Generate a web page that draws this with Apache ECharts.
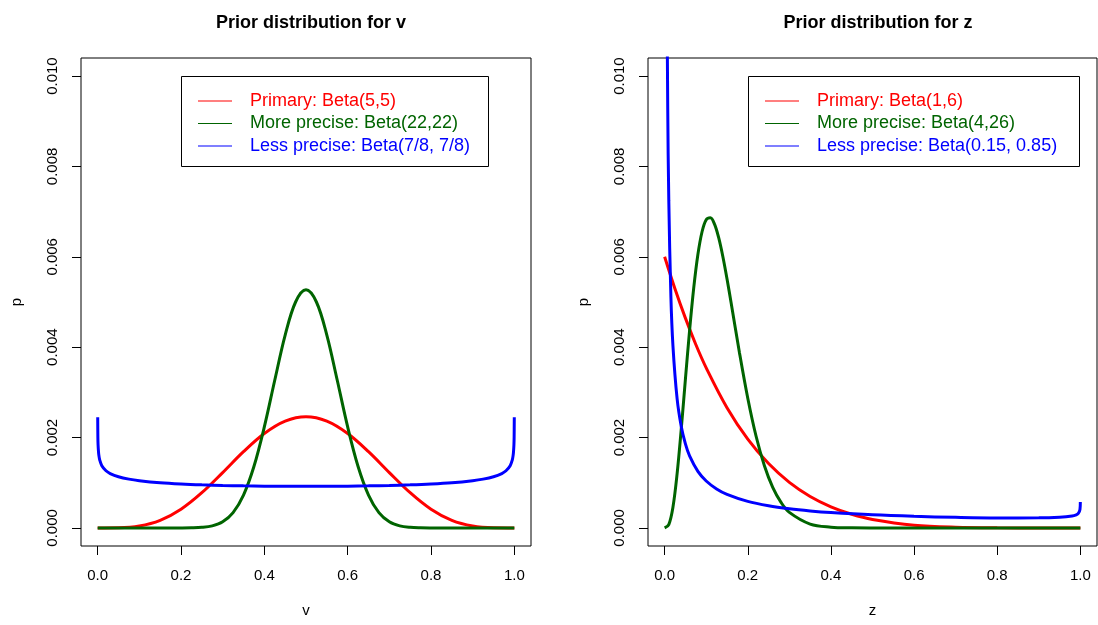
<!DOCTYPE html>
<html>
<head>
<meta charset="utf-8">
<script src="https://cdn.jsdelivr.net/npm/echarts@6/dist/echarts.min.js"></script>
<style>
html,body{margin:0;padding:0;background:#fff;}
#chart{width:1098px;height:625px;}
</style>
</head>
<body>
<div id="chart"></div>
<script>
// ---- data (p values) ----
const xTicks = [0, 0.2, 0.4, 0.6, 0.8, 1.0];
const yTicks = [0, 0.002, 0.004, 0.006, 0.008, 0.010];

// Left panel: prior for v
const vPrimaryX = [0,0.05,0.1,0.15,0.2,0.25,0.3,0.35,0.4,0.45,0.5,0.55,0.6,0.65,0.7,0.75,0.8,0.85,0.9,0.95,1];
const vPrimaryP = [0,0.0000032,0.0000413,0.000166,0.000413,0.000779,0.001225,0.001688,0.00209,0.002364,0.002461,0.002364,0.00209,0.001688,0.001225,0.000779,0.000413,0.000166,0.0000413,0.0000032,0];

const vPreciseX = [0,0.1,0.15,0.2,0.225,0.25,0.275,0.3,0.325,0.35,0.375,0.4,0.425,0.45,0.475,0.5,0.525,0.55,0.575,0.6,0.625,0.65,0.675,0.7,0.725,0.75,0.775,0.8,0.85,0.9,1];
const vPreciseP = [0,0,0,0.00000045,0.0000027,0.0000125,0.0000455,0.000135,0.000339,0.000727,0.001359,0.002236,0.003268,0.004267,0.005,0.00527,0.005,0.004267,0.003268,0.002236,0.001359,0.000727,0.000339,0.000135,0.0000455,0.0000125,0.0000027,0.00000045,0,0,0];

const vLessX = [0.0001,0.0005,0.001,0.002,0.003,0.005,0.01,0.02,0.03,0.05,0.075,0.1,0.15,0.2,0.25,0.3,0.35,0.4,0.45,0.5,0.55,0.6,0.65,0.7,0.75,0.8,0.85,0.9,0.925,0.95,0.97,0.98,0.99,0.995,0.997,0.998,0.999,0.9995,0.9999];
const vLessP = [0.002448,0.002002,0.001835,0.001684,0.0016,0.001502,0.001378,0.001265,0.001204,0.001133,0.00108,0.001046,0.001001,0.000973,0.000954,0.000941,0.000931,0.000925,0.000922,0.00092,0.000922,0.000925,0.000931,0.000941,0.000954,0.000973,0.001001,0.001046,0.00108,0.001133,0.001204,0.001265,0.001378,0.001502,0.0016,0.001684,0.001835,0.002002,0.002448];

// Right panel: prior for z
const zPrimaryX = [0,0.025,0.05,0.075,0.1,0.15,0.2,0.25,0.3,0.35,0.4,0.45,0.5,0.6,0.7,0.8,0.9,1];
const zPrimaryP = [0.006,0.005287,0.004643,0.00406,0.003543,0.002662,0.001966,0.001424,0.001008,0.000696,0.000467,0.000302,0.000188,0.0000614,0.0000146,0.0000019,0.0000001,0];

const zPreciseX = [0,0.01,0.02,0.03,0.04,0.05,0.06,0.07,0.08,0.09,0.1,0.11,0.12,0.13,0.14,0.15,0.16,0.18,0.2,0.22,0.24,0.26,0.28,0.3,0.35,0.4,0.45,0.5,0.6,0.8,1];
const zPreciseP = [0,0.0000739,0.000459,0.001198,0.002191,0.003294,0.004369,0.005311,0.00605,0.006555,0.00682,0.006866,0.006722,0.006422,0.006007,0.005514,0.004978,0.003879,0.002871,0.002029,0.001376,0.000898,0.000566,0.000344,0.0000857,0.0000173,0.0000028,0.00000035,0,0,0];

const zLessX = [0.001,0.003,0.005,0.0075,0.01,0.015,0.02,0.03,0.04,0.05,0.06,0.08,0.1,0.125,0.15,0.2,0.25,0.3,0.35,0.4,0.5,0.6,0.7,0.8,0.9,0.95,0.98,0.99,0.995,0.999,0.9999];
const zLessP = [0.05127,0.02015,0.01306,0.00926,0.007254,0.005142,0.004031,0.00286,0.002243,0.001859,0.001594,0.001252,0.001039,0.000863,0.000743,0.000587,0.00049,0.000424,0.000376,0.00034,0.000289,0.000256,0.000234,0.000222,0.000223,0.000237,0.000264,0.000291,0.000321,0.000408,0.000575];

const titles = ['Prior distribution for v', 'Prior distribution for z'];
const xNames = ['v', 'z'];
const leftNames = ['Primary: Beta(5,5)', 'More precise: Beta(22,22)', 'Less precise: Beta(7/8, 7/8)'];
const rightNames = ['Primary: Beta(1,6)', 'More precise: Beta(4,26)', 'Less precise: Beta(0.15, 0.85)'];
const colors = ['#FF0000', '#006400', '#0000FF'];

// ---- chart ----
const FONT = 'Liberation Sans, Arial, Helvetica, sans-serif';
const zip = (xs, ys) => xs.map((x, i) => [x, ys[i]]);

const gridDefs = [
  {left: 81, top: 58, width: 450, height: 488},
  {left: 648, top: 58, width: 449, height: 488}
];
const centers = [306, 873];

function xAxisFor(i) {
  return {
    gridIndex: i, type: 'value', min: -0.04, max: 1.04,
    axisLine: {show: false, onZero: false},
    splitLine: {show: false},
    axisTick: {show: true, length: 9, customValues: xTicks, lineStyle: {color: '#000', width: 1}},
    axisLabel: {customValues: xTicks, formatter: v => v.toFixed(1), margin: 22, fontSize: 15, color: '#000', fontFamily: FONT},
    name: xNames[i], nameLocation: 'middle', nameGap: 57,
    nameTextStyle: {fontSize: 15, color: '#000', fontFamily: FONT}
  };
}
function yAxisFor(i) {
  return {
    gridIndex: i, type: 'value', min: -0.0004, max: 0.0104,
    axisLine: {show: false, onZero: false},
    splitLine: {show: false},
    axisTick: {show: true, length: 9, customValues: yTicks, lineStyle: {color: '#000', width: 1}},
    axisLabel: {customValues: yTicks, formatter: v => v.toFixed(3), rotate: 90, margin: 21, fontSize: 15, color: '#000', fontFamily: FONT},
    name: 'p', nameLocation: 'middle', nameGap: 57, nameRotate: 90,
    nameTextStyle: {fontSize: 15, color: '#000', fontFamily: FONT}
  };
}
function lineSeries(name, data, color, gi) {
  return {
    name: name, type: 'line', xAxisIndex: gi, yAxisIndex: gi, data: data,
    showSymbol: false, symbol: 'none', smooth: 0.35, clip: true,
    color: color, itemStyle: {color: color},
    lineStyle: {color: color, width: 3}, animation: false
  };
}
function legendFor(names, left) {
  return {
    orient: 'vertical', left: left, top: 89.75, padding: 0, itemGap: 0,
    itemWidth: 34, itemHeight: 1, icon: 'rect', selectedMode: false,
    itemStyle: {borderWidth: 0},
    textStyle: {fontSize: 18, lineHeight: 22.5, fontFamily: FONT, padding: [0, 0, 0, 13]},
    data: names.map((n, k) => ({
      name: n,
      textStyle: {color: colors[k]},
      itemStyle: {color: colors[k], borderColor: colors[k], borderWidth: 0},
      lineStyle: {color: colors[k], width: 1}
    }))
  };
}

const option = {
  backgroundColor: '#fff',
  animation: false,
  textStyle: {fontFamily: FONT},
  title: titles.map((t, i) => ({
    text: t, left: centers[i], textAlign: 'center', top: 9,
    textStyle: {fontSize: 18, fontWeight: 'bold', color: '#000', fontFamily: FONT}
  })),
  grid: gridDefs.map(g => Object.assign({show: true, borderColor: '#000', borderWidth: 1, backgroundColor: 'transparent', containLabel: false}, g)),
  xAxis: [xAxisFor(0), xAxisFor(1)],
  yAxis: [yAxisFor(0), yAxisFor(1)],
  legend: [legendFor(leftNames, 198), legendFor(rightNames, 765)],
  graphic: [
    {type: 'rect', shape: {x: 181.5, y: 76.5, width: 307, height: 90}, style: {fill: 'none', stroke: '#000', lineWidth: 1}, silent: true},
    {type: 'rect', shape: {x: 748.5, y: 76.5, width: 331, height: 90}, style: {fill: 'none', stroke: '#000', lineWidth: 1}, silent: true}
  ],
  series: [
    lineSeries(leftNames[0], zip(vPrimaryX, vPrimaryP), colors[0], 0),
    lineSeries(leftNames[1], zip(vPreciseX, vPreciseP), colors[1], 0),
    lineSeries(leftNames[2], zip(vLessX, vLessP), colors[2], 0),
    lineSeries(rightNames[0], zip(zPrimaryX, zPrimaryP), colors[0], 1),
    lineSeries(rightNames[1], zip(zPreciseX, zPreciseP), colors[1], 1),
    lineSeries(rightNames[2], zip(zLessX, zLessP), colors[2], 1)
  ]
};

const chart = echarts.init(document.getElementById('chart'), null, {renderer: 'canvas'});
chart.setOption(option);
</script>
</body>
</html>
